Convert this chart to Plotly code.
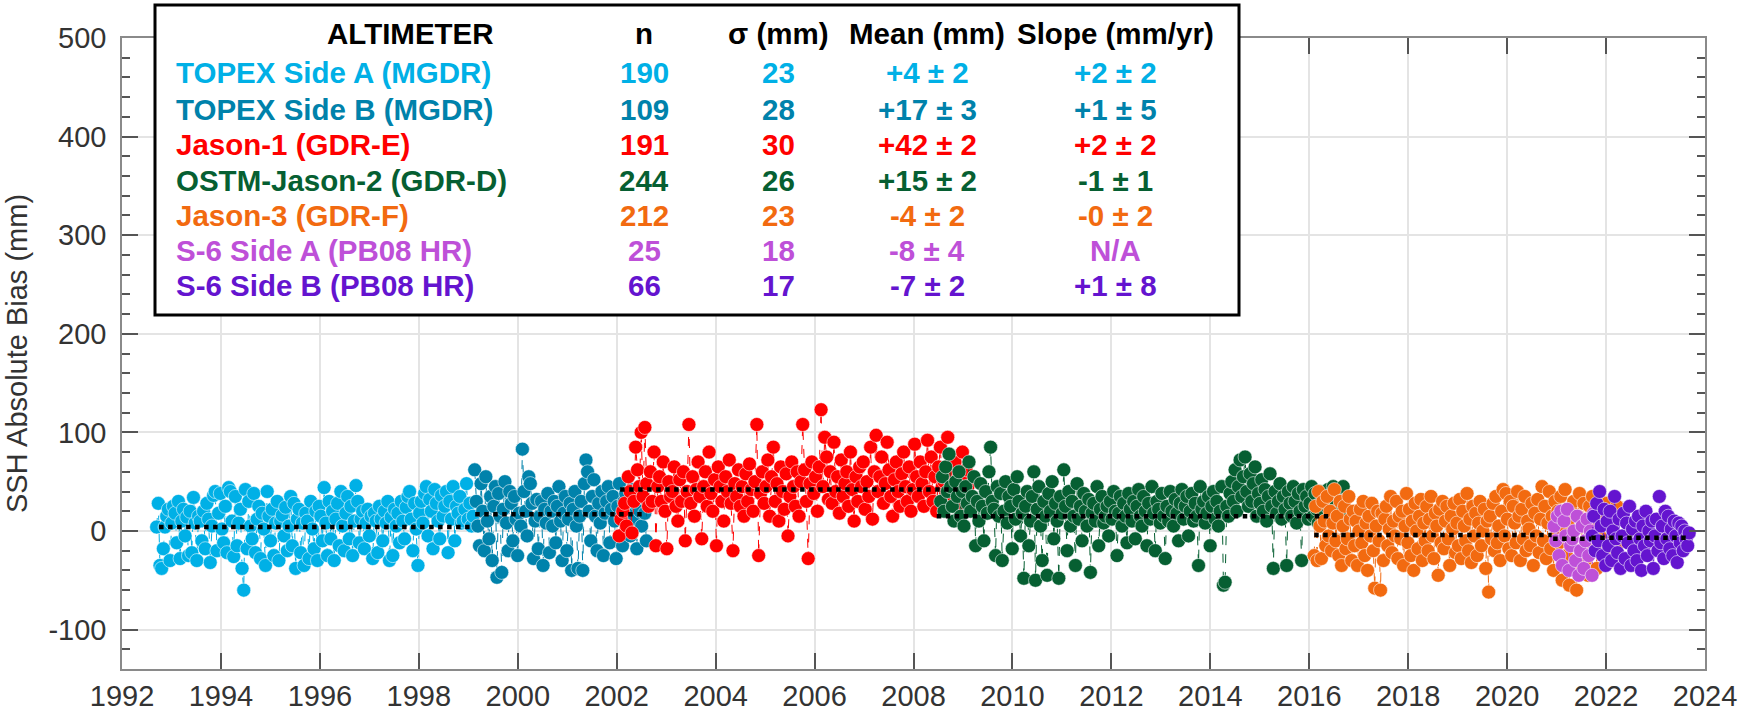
import numpy as np
import plotly.graph_objects as go

# ---------------- data ----------------
series_names = ["TOPEX Side A (MGDR)", "TOPEX Side B (MGDR)", "Jason-1 (GDR-E)",
                "OSTM-Jason-2 (GDR-D)", "Jason-3 (GDR-F)", "S-6 Side A (PB08 HR)",
                "S-6 Side B (PB08 HR)"]
series_colors = ["#00B0E6", "#0082AB", "#FF0000", "#065F32", "#F26A10", "#BE50D8", "#6414CF"]

# time span of each mission's cycles (decimal year)
t_start = [1992.70, 1999.13, 2002.05, 2008.55, 2016.10, 2020.95, 2021.72]
t_end = [1999.10, 2002.60, 2009.10, 2016.72, 2022.25, 2021.75, 2023.68]

topex_a = [4, 28, -35, -38, -18, 4, 15, 22, -30, 8, 25, 18, -12, 30, -28, 10, 22, -5, 14, -25,
           20, -22, 34, 8, -30, 15, 10, -10, 20, -18, 28, 12, -32, 5, 36, 40, -20, 18, 38, 2,
           -12, 25, -22, 44, 40, 10, -26, 35, -15, 8, 22, -38, -60, 42, -18, 30, 5, -8, 38, -22,
           12, 25, -28, 18, 2, -35, 40, 15, -10, 22, -25, 8, 30, -30, 10, 16, -5, 24, -20, 5,
           35, -15, 28, -38, 12, 22, -22, 8, -35, 18, 10, -28, 30, 2, -18, 20, -30, 25, 15, -10,
           44, 8, -25, 30, -8, 20, -30, 12, 28, -15, 40, 5, -20, 18, 35, -8, 25, -25, 10, 46,
           30, -12, 12, 20, -18, 8, 22, -5, 15, -28, 18, 10, -22, 25, 12, -10, 20, 8, 30, -30,
           14, -25, 22, 5, 18, -12, 30, 10, -8, 24, 35, 40, 12, -20, 28, 2, -35, 18, 30, 8,
           38, 45, -5, 32, 20, -18, 42, 28, 10, -8, 36, 15, 25, 40, -22, 30, 12, 45, -10, 25,
           18, 35, 8, 10, 22, 48, 12, 28, 5, 15]
topex_b = [62, 30, 5, -15, 48, 20, -20, 55, 10, -8,
           35, -30, 25, 45, -47, 38, 15, -42, 22, 50,
           8, -20, 40, 28, -10, 35, 12, -25, 18, 5,
           83, 40, 20, -5, 55, 48, 28, -28, 10, 32,
           -18, 15, 30, -35, 22, 8, 38, -22, 20, 5,
           30, -12, 25, 45, 10, -30, 18, 35, -20, 12,
           28, -40, 22, 40, 5, -38, 15, 30, -40, 48,
           72, 60, 20, -10, 35, 52, 15, -20, 28, 8,
           40, -25, 18, 30, 45, -12, 22, 35, 10, -28,
           25, 48, 15, -15, 30, 38, 8, 20, -5, 42,
           12, 28, -18, 35, 20, 5, 45, 18, -10]
jason1 = [-5, 12, 20, 28, 5, 55, 40, -2, 30, 85,
          62, 45, 100, 35, 105, 48, 25, 60, 30, 80,
          -15, 45, 55, 30, 70, 20, -18, 50, 35, 40,
          65, 25, 10, 52, 30, 60, -10, 40, 108, 28,
          55, 15, 42, 70, 35, -8, 45, 60, 25, 80,
          38, 20, 52, -15, 65, 45, 30, 10, 55, 40,
          72, 28, -20, 48, 35, 62, 25, 45, 15, 58,
          30, 68, 42, 20, 50, 108, -25, 38, 60, 28,
          45, 72, 15, 55, 85, 30, 48, 10, 65, 40,
          22, 58, -5, 35, 70, 45, 25, 60, 15, 50,
          108, 62, 30, -28, 48, 70, 38, 55, 20, 65,
          123, 45, 95, 75, 32, 60, 28, 90, 40, 55,
          18, 72, 35, 48, 60, 25, 80, 42, 10, 55,
          30, 65, 45, 70, 22, 50, 35, 85, 12, 60,
          97, 40, 55, 75, 28, 48, 90, 62, 35, 15,
          52, 70, 40, 25, 58, 80, 45, 30, 65, 20,
          42, 88, 55, 35, 70, 48, 25, 60, 92, 40,
          75, 30, 55, 20, 65, 85, 45, 50, 38, 95,
          60, 48, 35, 70, 25, 55, 42, 80, 58, 62,
          45]
jason2 = [30, 55, 20, 65, 40, 78, 45, 25, 10, 50,
          35, 60, 15, 40, 5, 45, 28, 70, 20, 35,
          55, -15, 30, 10, 48, 25, -10, 40, 18, 60,
          85, 30, 22, -25, 45, 15, 38, -30, 20, 50,
          8, 35, 25, -18, 42, 12, 55, 30, -5, 18,
          -48, 25, 40, -15, 10, 35, 60, -50, 22, 45,
          5, -30, 30, 15, -45, 38, 20, 50, -8, 28,
          10, -48, 35, 18, 62, 25, -20, 40, 5, 30,
          15, -35, 48, 12, 25, -10, 38, 20, 5, 32,
          -42, 18, 28, 10, 45, -15, 22, 35, 8, 15,
          25, -5, 30, 12, 40, 20, -25, 18, 35, 5,
          28, 15, -12, 38, 22, 10, 30, -8, 25, 42,
          15, 5, 35, 20, -15, 28, 12, 45, 18, -20,
          30, 22, 8, 38, 15, -28, 25, 10, 40, 20,
          5, 32, 18, -10, 28, 42, 12, 25, 35, -5,
          20, 38, 10, 28, 15, -35, 45, 22, 30, 8,
          18, 35, -15, 25, 40, 12, 30, 5, 20, 45,
          -55, -52, 25, 15, 38, 50, 30, 62, 20, 45,
          72, 35, 55, 75, 40, 25, 58, 30, 48, 65,
          15, 38, 28, 52, 20, 42, 10, 35, 58, 25,
          -38, 40, 18, 30, 48, 12, 35, 22, -35, 40,
          28, 15, 45, 30, 8, 38, 20, -30, 42, 25,
          35, 12, 28, 45, 15, 38, 22, 8, 40, 30,
          18, 35, 25, 42, 10, 28, 45, 20, 38, 15,
          22, 30, 45, 12]
jason3 = [-25, 25, -30, 40, 5, -28, 30, 10, -15, 35,
          -5, 20, -20, 8, 42, -10, 15, -25, 30, -35,
          5, 25, -18, -8, 35, 12, -30, 20, -15, 10,
          -35, 0, 22, -12, 30, -25, 8, -40, 15, -5,
          28, -20, -58, 5, 20, -10, -60, 18, -30, 12,
          25, -15, 2, 35, -22, 10, -5, 30, -28, 15,
          -8, 20, -35, 5, 38, -12, 22, -25, 10, -40,
          28, 0, -18, 15, 32, -30, 8, -10, 25, -20,
          12, 35, -5, -28, 18, 5, -45, 22, -12, 30,
          -18, 10, 25, -8, -35, 15, 2, 28, -22, 8,
          -15, 32, -28, 20, 5, -10, 38, -20, 12, -32,
          25, -5, 18, -25, 8, 30, -15, 0, 22, -38,
          10, -62, 15, -8, 28, -20, 35, -12, 5, -30,
          20, 42, -5, 38, 12, -18, 30, -25, 25, 8,
          -12, 40, 15, -30, 22, -8, 35, -20, 10, 2,
          -15, 28, -35, 18, -5, 32, -22, 12, 45, -10,
          25, -28, 8, 40, -18, 15, -40, 30, -5, 20,
          -12, 35, -50, 5, 42, -25, 10, -55, 22, -8,
          30, -35, -60, 15, 38, -20, 5, 28, -30, 12,
          -45, 25, -10, 35, -18, 8, -38, 20, -5, 30,
          -25, 12, -15, 28, -32, 5, 18, -20, 10, -8,
          25, -12]
s6a = [5, -10, 15, -25, 20, -35, 10, -5, 22, -40, -15, -8, 0, -30, 15, -45, -20, 5, -38, -10,
       12, -25, 0, -45, 18]
s6b = [-5, 15, -20, 28, -10, 40, 5, -25, 22, -35,
       10, -15, 20, -30, 0, 35, -8, -22, 12, -38,
       -5, 18, -28, 8, -12, 25, -35, 2, -20, 10,
       -30, 15, -8, -40, 5, -15, 20, -25, 0, -10,
       10, -38, -5, 12, -20, 35, -12, 5, -28, 20,
       -8, 15, -18, 2, -25, 10, -5, -32, 8, -12,
       5, -20, 0, -8, -15, -2]
series_values = [topex_a, topex_b, jason1, jason2, jason3, s6a, s6b]

# table statistics
stat_n = ["190", "109", "191", "244", "212", "25", "66"]
stat_sigma = ["23", "28", "30", "26", "23", "18", "17"]
stat_mean_txt = ["+4 ± 2", "+17 ± 3", "+42 ± 2", "+15 ± 2", "-4 ± 2", "-8 ± 4", "-7 ± 2"]
stat_slope = ["+2 ± 2", "+1 ± 5", "+2 ± 2", "-1 ± 1", "-0 ± 2", "N/A", "+1 ± 8"]
mean_vals = [4, 17, 42, 15, -4, -8, -7]
# extent of the dotted mean lines
mean_x0 = [1992.75, 1999.14, 2002.07, 2008.47, 2016.10, 2020.93, 2021.70]
mean_x1 = [1999.03, 2002.60, 2009.08, 2016.40, 2020.90, 2021.70, 2023.66]

x_ticks = list(range(1992, 2025, 2))
y_ticks = list(range(-100, 501, 100))

# ---------------- figure ----------------
fig = go.Figure()
for name, col, v, a, b in zip(series_names, series_colors, series_values, t_start, t_end):
    t = np.linspace(a, b, len(v))
    fig.add_trace(go.Scatter(
        x=t, y=v, mode="lines+markers", name=name,
        line=dict(color=col, width=1, dash="dash"),
        marker=dict(color=col, size=14, line=dict(color="rgba(255,255,255,0.55)", width=1)),
        showlegend=False))

for m, a, b in zip(mean_vals, mean_x0, mean_x1):
    fig.add_trace(go.Scatter(x=[a, b], y=[m, m], mode="lines",
                             line=dict(color="black", width=4.5, dash="dot"),
                             showlegend=False, hoverinfo="skip"))

L, R, T, B = 122, 49, 38, 48
W, H = 1754, 717
pw, ph = W - L - R, H - T - B


def px(x):
    return (x - L) / pw


def py(y):
    return (H - B - y) / ph


fig.add_shape(type="rect", xref="paper", yref="paper",
              x0=px(155), x1=px(1239), y0=py(315), y1=py(5),
              line=dict(color="black", width=3), fillcolor="white", layer="above")

font_fam = "Liberation Sans, Arial, sans-serif"
fs = 29.5
ann = []
hdr_y = py(33)
for txt, xc in [("ALTIMETER", 410), ("n", 644), ("σ (mm)", 778), ("Mean (mm)", 927), ("Slope (mm/yr)", 1115)]:
    ann.append(dict(x=px(xc), y=hdr_y, text="<b>%s</b>" % txt, xanchor="center", yanchor="middle",
                    font=dict(color="black", size=fs, family=font_fam)))
row_y = [73, 110, 145, 180, 215, 250, 285]
for i in range(7):
    c = series_colors[i]
    yy = py(row_y[i])
    ann.append(dict(x=px(174), y=yy, text="<b>%s</b>" % series_names[i], xanchor="left", yanchor="middle",
                    font=dict(color=c, size=fs, family=font_fam)))
    for txt, xc in [(stat_n[i], 644), (stat_sigma[i], 778), (stat_mean_txt[i], 927), (stat_slope[i], 1115)]:
        ann.append(dict(x=px(xc), y=yy, text="<b>%s</b>" % txt, xanchor="center", yanchor="middle",
                        font=dict(color=c, size=fs, family=font_fam)))
for a in ann:
    a.update(xref="paper", yref="paper", showarrow=False)

axis_common = dict(showline=True, linecolor="#8a8a8a", linewidth=1.5, mirror="ticks",
                   ticks="inside", tickcolor="#555555", ticklen=16, tickwidth=1.5,
                   showgrid=True, gridcolor="#e4e4e4", gridwidth=2, zeroline=False,
                   automargin=False,
                   tickfont=dict(size=29, color="#333333", family=font_fam))

fig.update_layout(
    width=W, height=H, margin=dict(l=L, r=R, t=T, b=B, autoexpand=False),
    paper_bgcolor="white", plot_bgcolor="white",
    annotations=ann,
    xaxis=dict(range=[1992, 2024], tickvals=x_ticks, ticktext=[str(v) for v in x_ticks],
               ticklabelstandoff=0, **axis_common),
    yaxis=dict(range=[-140, 500], tickvals=y_ticks, ticktext=[str(v) for v in y_ticks],
               ticklabelstandoff=8,
               minor=dict(dtick=20, tick0=0, ticks="inside", ticklen=8, tickcolor="#555555", showgrid=False),
               title=dict(text="SSH Absolute Bias (mm)", font=dict(size=29, color="#333333", family=font_fam),
                          standoff=12),
               **axis_common),
)

fig.write_html("out.html")
